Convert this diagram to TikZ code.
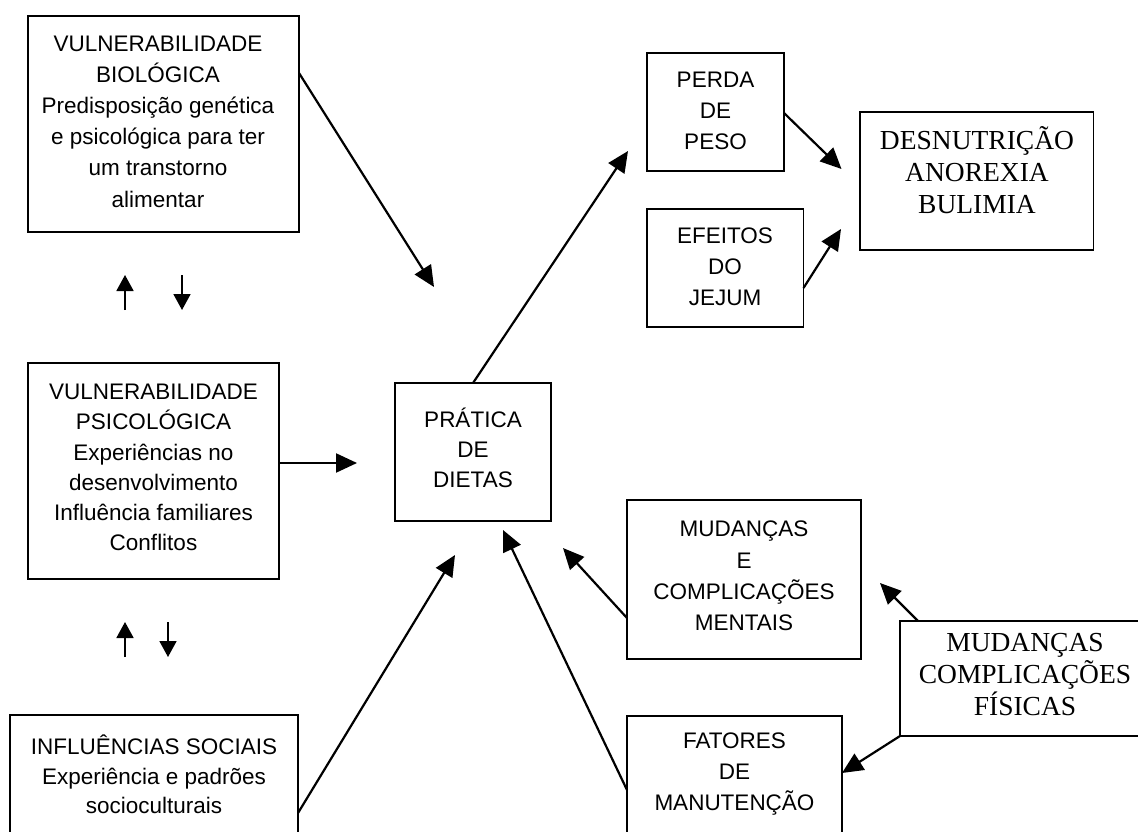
\documentclass[tikz,border=0pt]{standalone}
\usepackage{fontspec}
\setmainfont{Liberation Sans}
\newfontfamily\serifrm{Liberation Serif}
\usetikzlibrary{arrows.meta,calc}
\begin{document}
\begin{tikzpicture}[x=1pt,y=-1pt,
  box/.style={draw,line width=1.8pt,rectangle,anchor=north west,inner sep=0,outer sep=0},
  sanstext/.style={align=center,font=\fontsize{22.5}{31.2}\selectfont,inner sep=0},
  seriftext/.style={align=center,font=\serifrm\fontsize{27.5}{32}\selectfont,inner sep=0},
  conn/.style={line width=2.2pt,-{Triangle[length=21pt,width=19pt]}},
  small/.style={line width=1.8pt,-{Triangle[length=16pt,width=17pt]}}
]
\useasboundingbox (0,0) rectangle (1138,832);
\clip (0,0) rectangle (1138,832);
% boxes
\node[box,minimum width=271pt,minimum height=216pt] (bio) at (28,16) {};
\node[box,minimum width=251pt,minimum height=216pt] (psy) at (28,363) {};
\node[box,minimum width=288pt,minimum height=140pt] (soc) at (10,715) {};
\node[box,minimum width=156pt,minimum height=138pt] (prat) at (395,383) {};
\node[box,minimum width=137pt,minimum height=118pt] (perda) at (647,53) {};
\node[box,minimum width=156.5pt,minimum height=118pt] (efe) at (647,209) {};
\node[box,minimum width=233.5pt,minimum height=138pt] (desn) at (860,112) {};
\node[box,minimum width=234pt,minimum height=159pt] (ment) at (627,500) {};
\node[box,minimum width=215pt,minimum height=140pt] (fat) at (627,716) {};
\node[box,minimum width=250pt,minimum height=115pt] (fis) at (900,621) {};
% texts
\node[sanstext] (biot) at (158,121.5) {VULNERABILIDADE\\BIOLÓGICA\\Predisposição genética\\e psicológica para ter\\um transtorno\\alimentar};
\node[sanstext,font=\fontsize{22.5}{30.2}\selectfont] (psyt) at (153.5,467.5) {VULNERABILIDADE\\PSICOLÓGICA\\Experiências no\\desenvolvimento\\Influência familiares\\Conflitos};
\node[sanstext,font=\fontsize{22.5}{29.5}\selectfont] (soct) at (154,774.5) {INFLUÊNCIAS SOCIAIS\\Experiência e padrões\\socioculturais};
\node[sanstext,font=\fontsize{22.5}{30}\selectfont] (pratt) at (473,448) {PRÁTICA\\DE\\DIETAS};
\node[sanstext] (perdat) at (715.5,111) {PERDA\\DE\\PESO};
\node[sanstext] (efet) at (725,266.5) {EFEITOS\\DO\\JEJUM};
\node[seriftext] (desnt) at (977,170) {DESNUTRIÇÃO\\ANOREXIA\\BULIMIA};
\node[sanstext] (mentt) at (744,576) {MUDANÇAS\\E\\COMPLICAÇÕES\\MENTAIS};
\node[sanstext] (fatt) at (734.5,774) {FATORES\\DE\\MANUTENÇÃO};
\node[seriftext] (fist) at (1025,675) {MUDANÇAS\\COMPLICAÇÕES\\FÍSICAS};
% tips
\coordinate (t1) at (434,287);
\coordinate (t2) at (357,463);
\coordinate (t3) at (455,555);
\coordinate (t4) at (628,151);
\coordinate (t5) at (841.5,169);
\coordinate (t6) at (841,229);
\coordinate (t7) at (563,548);
\coordinate (t8) at (503,530);
\coordinate (t9) at (880,583);
\coordinate (t10) at (842,773);
% connectors
\draw[conn] ($(bio.north east)+(0,57)$) -- (t1);
\draw[conn] ($(psy.north east)+(0,100)$) -- (t2);
\draw[conn] ($(soc.north east)+(0,98)$) -- (t3);
\draw[conn] ($(prat.north west)+(78,0)$) -- (t4);
\draw[conn] ($(perda.north east)+(0,60)$) -- (t5);
\draw[conn] ($(efe.north east)+(0,79)$) -- (t6);
\draw[conn] ($(ment.north west)+(0,118)$) -- (t7);
\draw[conn] ($(fat.north west)+(0,74)$) -- (t8);
\draw[conn] ($(fis.north west)+(18,0)$) -- (t9);
\draw[conn] ($(fis.north west)+(0,115)$) -- (t10);
% double arrows between left boxes
\coordinate (u1a) at (125,310); \coordinate (u1b) at (125,275);
\coordinate (d1a) at (182,275); \coordinate (d1b) at (182,310);
\coordinate (u2a) at (125,657); \coordinate (u2b) at (125,622);
\coordinate (d2a) at (168,622); \coordinate (d2b) at (168,657);
\draw[small] (u1a) -- (u1b);
\draw[small] (d1a) -- (d1b);
\draw[small] (u2a) -- (u2b);
\draw[small] (d2a) -- (d2b);
\end{tikzpicture}
\end{document}
